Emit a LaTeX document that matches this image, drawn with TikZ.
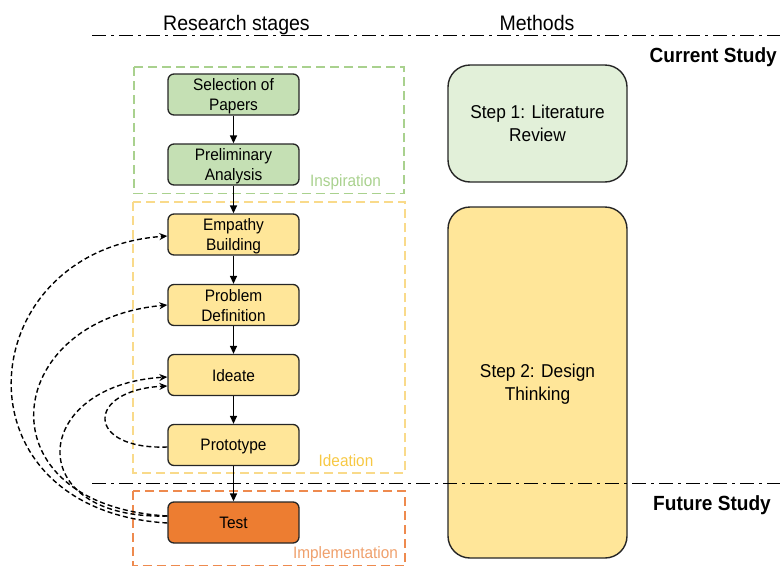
\documentclass[tikz,border=0pt]{standalone}
\usepackage{fontspec}
\setmainfont{Liberation Sans}[FakeStretch=0.93]
\usetikzlibrary{arrows.meta,calc}

\definecolor{stageGreen}{HTML}{C5E0B4}
\definecolor{stageYellow}{HTML}{FFE699}
\definecolor{stageOrange}{HTML}{ED7D31}
\definecolor{methodGreen}{HTML}{E2F0D9}
\definecolor{frameGreen}{HTML}{A9D18E}
\definecolor{frameYellow}{HTML}{F9DA8A}
\definecolor{frameOrange}{HTML}{EE8A4E}
\definecolor{lblYellow}{HTML}{F7C843}
\definecolor{lblOrange}{HTML}{EFA06C}
\definecolor{edge}{HTML}{262626}

\tikzset{
  stagebox/.style={draw=edge, line width=1.3pt, rounded corners=6pt,
    minimum width=131pt, minimum height=41pt, inner sep=0pt,
    text depth=-3pt, align=center, font=\fontsize{16.6}{20}\selectfont},
  methodbox/.style={draw=edge, line width=1.4pt, rounded corners=22pt,
    minimum width=179pt, inner sep=0pt, text depth=-4pt, align=center,
    font=\fontsize{18.6}{23}\selectfont},
  groupframe/.style={dashed, dash pattern=on 9pt off 5pt, line width=1.8pt},
  grouplabel/.style={font=\fontsize{16.5}{18}\selectfont, inner sep=0pt, anchor=base},
  flow/.style={line width=1.3pt, -{Triangle[length=8pt,width=7pt]}},
  loopback/.style={line width=1.4pt, dash pattern=on 5pt off 3pt,
    -{Stealth[length=8pt,width=7pt]}},
  divider/.style={line width=1.5pt, dash pattern=on 14pt off 5pt on 3pt off 5pt},
  heading/.style={font=\fontsize{21}{24}\selectfont, inner sep=0pt, anchor=base},
  studylabel/.style={font=\bfseries\fontsize{20.5}{24}\selectfont, inner sep=0pt, anchor=base east}
}

\begin{document}
\begin{tikzpicture}[x=1pt,y=-1pt]
\useasboundingbox (0,0) rectangle (780,568);

% column headings
\node[heading] (hstages) at (236.5,30) {Research stages};
\node[heading] (hmethods) at (537,30) {Methods};

% method column
\node[methodbox, fill=methodGreen, minimum height=117pt] (step1) at (537.5,123.5)
  {Step 1: Literature\\Review};
\node[methodbox, fill=stageYellow, minimum height=351pt] (step2) at (537.5,382.5)
  {Step 2: Design\\Thinking};

% group frames
\draw[groupframe, draw=frameGreen] (134,67) rectangle (404,193.5);
\draw[groupframe, draw=frameYellow] (133,202) rectangle (405,473);
\draw[groupframe, draw=frameOrange] (133,491) rectangle (405,565.5);
\node[grouplabel, text=frameGreen] (lInsp) at (345.5,186) {Inspiration};
\node[grouplabel, text=lblYellow] (lIdea) at (346,466) {Ideation};
\node[grouplabel, text=lblOrange] (lImpl) at (345.5,558) {Implementation};

% stage boxes
\node[stagebox, fill=stageGreen] (sel) at (233.5,94.5) {Selection of\\Papers};
\node[stagebox, fill=stageGreen] (pre) at (233.5,164.5) {Preliminary\\Analysis};
\node[stagebox, fill=stageYellow] (emp) at (233.5,234.5) {Empathy\\Building};
\node[stagebox, fill=stageYellow] (prob) at (233.5,305) {Problem\\Definition};
\node[stagebox, fill=stageYellow] (idea) at (233.5,375) {Ideate};
\node[stagebox, fill=stageYellow] (proto) at (233.5,445) {Prototype};
\node[stagebox, fill=stageOrange] (test) at (233.5,522.5) {Test};

% main flow
\draw[flow] (sel) -- (pre);
\draw[flow] (pre) -- (emp);
\draw[flow] (emp) -- (prob);
\draw[flow] (prob) -- (idea);
\draw[flow] (idea) -- (proto);
\draw[flow] (proto) -- (test);

% iteration loops
\draw[loopback] ([yshift=-0.5pt]test.west) .. controls (-50,510) and (-30,250) .. ([yshift=-1.5pt]emp.west);
\draw[loopback] ([yshift=6.5pt]test.west) .. controls (-20,505) and (0,320) .. (prob.west);
\draw[loopback] ([yshift=6.5pt]test.west) .. controls (20,520) and (30,385) .. ([yshift=-2pt]idea.west);
\draw[loopback] ([yshift=-2pt]proto.west) .. controls (85,450) and (85,390) .. ([yshift=-11pt]idea.west);

% study dividers
\coordinate (topL) at (92,35.5);
\coordinate (topR) at (780,35.5);
\coordinate (botL) at (92,483.5);
\coordinate (botR) at (780,483.5);
\draw[divider] (topL) -- (topR);
\draw[divider] (botL) -- (botR);
\node[studylabel] (cur) at (777,62) {Current Study};
\node[studylabel] (fut) at (771,510) {Future Study};
\end{tikzpicture}
\end{document}
